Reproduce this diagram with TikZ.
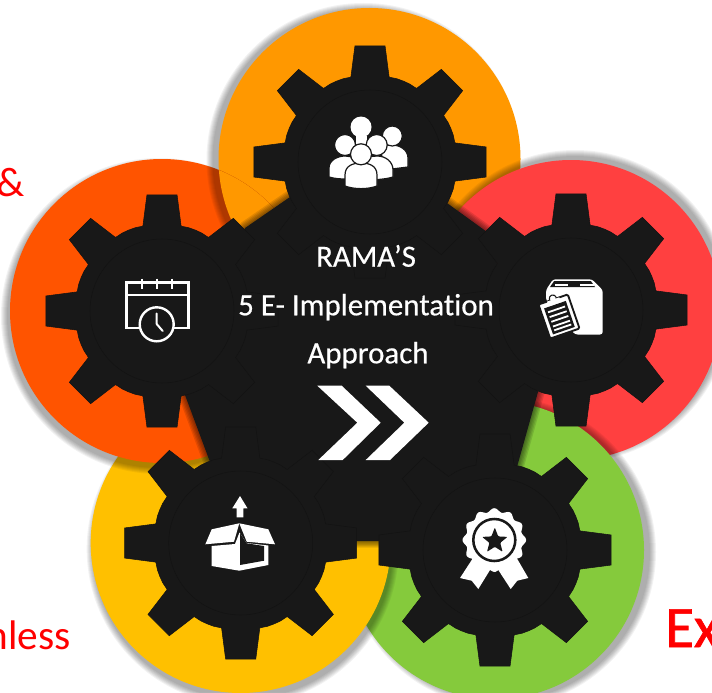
\documentclass[tikz,border=0pt]{standalone}
\usepackage{fontspec}
\setmainfont{Carlito}[Ligatures=NoCommon]
\newfontfamily\titlefont{Carlito}[Ligatures=NoCommon,FakeBold=0.4]
\newfontfamily\exfont{Carlito}[Ligatures=NoCommon,FakeBold=1.2]
\definecolor{blk}{HTML}{181818}
\definecolor{faintc}{HTML}{131313}
\definecolor{corange}{HTML}{FF9800}
\definecolor{cleft}{HTML}{FF5400}
\definecolor{cred}{HTML}{FF4040}
\definecolor{cgreen}{HTML}{85CA3C}
\definecolor{cyellow}{HTML}{FFC000}
\tikzset{
  gearfill/.style={fill=blk},
  gearline/.style={draw=faintc,line width=.4pt},
  ringline/.style={draw=faintc,line width=.4pt},
  title/.style={text=white,font=\titlefont\fontsize{23.2pt}{26pt}\selectfont,anchor=base,inner sep=0pt},
  redtext/.style={text=red,inner sep=0pt},
  ico/.style={draw=white,line width=1.6pt},
  pers/.style={fill=white,draw=blk,line width=.9pt},
}
\newcommand\gearat[3]{\path[#3,shift={(#1,#2)}] (-12.7:87) foreach \a in {0,45,...,315} { -- (\a-7.4:117) -- (\a+7.4:117) -- (\a+12.7:87) -- (\a+18:87.5) -- (\a+22.5:87.5) -- (\a+27:87.5) -- (\a+32.3:87)} -- cycle;}
% x y r ox oy colour
\newcommand\softdisc[6]{\foreach \i in {1,...,7}{\fill[black,opacity=.05] (#1+#4,#2+#5) circle[radius=#3+\i*1.0-1];}\fill[#6] (#1,#2) circle[radius=#3];}
\begin{document}
\begin{tikzpicture}[x=.75pt,y=-.75pt]
\clip (0,0) rectangle (712,692);
\fill[white] (0,0) rectangle (712,692);
% discs, cyclic overlap
\softdisc{369.5}{159}{151}{-6}{1}{corange}
\softdisc{571}{310}{150}{4}{-4}{cred}
\softdisc{495}{550}{149}{6}{2}{cgreen}
\softdisc{240.7}{543}{150}{2}{6}{cyellow}
\softdisc{162}{311}{152}{-3}{5}{cleft}
\begin{scope}
\clip (162,311) circle[radius=152];
\softdisc{369.5}{159}{151}{-6}{1}{corange}
\end{scope}
% texts outside
\node[redtext,anchor=base east,font=\fontsize{31pt}{34pt}\selectfont] (amp) at (25,196) {\&};
\node[redtext,anchor=base east,font=\fontsize{31pt}{34pt}\selectfont] (nless) at (71,649) {nless};
\node[redtext,anchor=base west,font=\exfont\fontsize{44pt}{48pt}\selectfont] (ex) at (665,647) {Ex};
% centre shadow
\foreach \w in {2,4,6,8,10}{
\draw[black,opacity=.11,line width=\w pt,line join=round] (290,197) -- (245,228) -- (185,395) -- (210,462) -- (230,541) -- (510,541) -- (517,467) -- (538,392) -- (487,232) -- (447,203) -- cycle;}
\fill[blk] (290,197) -- (245,228) -- (185,395) -- (210,462) -- (230,541) -- (510,541) -- (517,467) -- (538,392) -- (487,232) -- (447,203) -- cycle;
% gears
\gearat{370}{162}{gearfill}
\gearat{162}{311}{gearfill}
\gearat{571}{310}{gearfill}
\gearat{240.7}{543}{gearfill}
\gearat{495}{550}{gearfill}
\foreach \x/\y in {370/162,162/311,571/310,240.7/543,495/550}{
  \gearat{\x}{\y}{gearline}
  \draw[ringline] (\x,\y) circle[radius=72];
}
% people
\fill[white] (361,127) circle[radius=10.5];
\fill[white] (356,136) rectangle (367,146);
\draw[pers] (384,170) -- (408,167) -- (408,158) .. controls (408,150) and (400,145) .. (392,145) -- (380,145) -- cycle;
\draw[pers] (392.3,136) circle[radius=10];
\draw[pers] (329,177) -- (329,168) .. controls (329,160) and (338,156) .. (345,156) .. controls (352,156) and (358,159) .. (358,165) -- (358,179) -- (345,179) .. controls (340,179) and (334,178.5) .. (329,177) -- cycle;
\draw[pers] (345,145) circle[radius=10.5];
\draw[pers] (377,156) .. controls (386,156) and (393,162) .. (393,170) -- (393,177) .. controls (388,178.5) and (384,179) .. (378,179.5) -- (365,179) -- (365,157) -- cycle;
\draw[pers] (376.7,145) circle[radius=10.5];
\draw[pers] (345,186) -- (345,175) .. controls (345,165) and (354,163) .. (361,163) .. controls (368,163) and (377,165) .. (377,175) -- (377,186) .. controls (368,189.5) and (354,189.5) .. (345,186) -- cycle;
\draw[pers] (361,154.3) circle[radius=10.5];
% calendar
\draw[ico] (126.5,282.5) rectangle (188.5,328);
\draw[ico] (126.5,295) -- (188.5,295);
\draw[ico] (142,278.5) -- (142,289);
\draw[ico] (156.7,278.5) -- (156.7,289);
\draw[ico] (172,278.5) -- (172,289);
\draw[ico,fill=blk,line width=1.8pt] (156.7,324.3) circle[radius=17];
\draw[ico,line cap=round,line join=round,line width=1.5pt] (156.7,313.5) -- (156.7,324) -- (162.7,331);
% box with clipboard
\fill[white,rounded corners=2pt] (553,279.3) -- (592,279.3) -- (602.7,290) -- (602.7,334.5) -- (575,334.5) -- (546,300) -- (546,290) -- cycle;
\fill[blk] (554,281.2) -- (591,281.2) -- (595,287) -- (550,287) -- cycle;
\fill[white] (554.5,284) rectangle (567.5,286);
\fill[white] (580,284) rectangle (594,286);
\begin{scope}[shift={(559,316.5)},rotate=19]
\draw[fill=white,draw=blk,line width=1.4pt,rounded corners=1pt] (-15.5,-18) rectangle (15.5,18);
\fill[blk] (-11.5,-12.5) rectangle (11.5,15);
\draw[fill=white,draw=blk,line width=.8pt] (0,-19) circle[radius=3.6];
\fill[white] (-6.5,-18) rectangle (6.5,-13);
\foreach \v in {-7.5,-2.5,2.5,7.5,11.5}{\fill[white] (-9,\v-.9) rectangle (9,\v+.9);}
\end{scope}
% open box
\fill[white] (240,496) -- (247.5,508.3) -- (243.3,508.3) -- (243.3,517.3) -- (236.7,517.3) -- (236.7,508.3) -- (232.3,508.3) -- cycle;
\fill[white] (205.3,544.3) -- (211.7,529.3) -- (239.3,523.3) -- (234,541.7) -- cycle;
\fill[white] (239.3,523.3) -- (268.3,529.3) -- (275,544.3) -- (246.7,541.7) -- cycle;
\fill[white] (211.7,546) -- (235,544) -- (239.5,532.5) -- (246.5,543) -- (268.3,545.5) -- (268.3,565) -- (239.3,570.7) -- (211.7,566) -- cycle;
\fill[blk] (240,533.3) -- (246.7,543.3) -- (264,546) -- (264,560.7) -- (240,565) -- cycle;
% rosette
\fill[white] (473,558) -- (460,578) -- (471.7,580.7) -- (478.3,589) -- (490,570) -- (495,572) -- (498.3,570) -- (510.7,589) -- (517.3,580.7) -- (528.3,578) -- (516.7,558) -- cycle;
\fill[white,domain=0:360,samples=180,smooth] plot ({494.3+(30+1.8*cos(12*\x))*cos(\x)},{540+(30+1.8*cos(12*\x))*sin(\x)}) -- cycle;
\draw[blk,line width=1.9pt] (494.3,540) circle[radius=21];
\fill[blk,rounded corners=.7pt] (494.8,527.5) -- (498.2,536.4) -- (507.5,536.9) -- (500.2,542.8) -- (502.6,551.8) -- (494.8,546.8) -- (487,551.8) -- (489.4,542.8) -- (482.1,536.9) -- (491.4,536.4) -- cycle;
% chevrons
\fill[white] (317.3,385.7) -- (341.7,385.7) -- (380.7,422.7) -- (342.7,460) -- (318.3,460) -- (357.3,422.7) -- cycle;
\fill[white] (365.7,385.7) -- (389.3,385.7) -- (428.7,422.7) -- (390,460) -- (365.7,460) -- (404.3,422.7) -- cycle;
% title
\node[title] (t1) at (366,266.7) {RAMA’S};
\node[title] (t2) at (366,315.3) {5 E- Implementation};
\node[title] (t3) at (368,363.3) {Approach};
\end{tikzpicture}
\end{document}
